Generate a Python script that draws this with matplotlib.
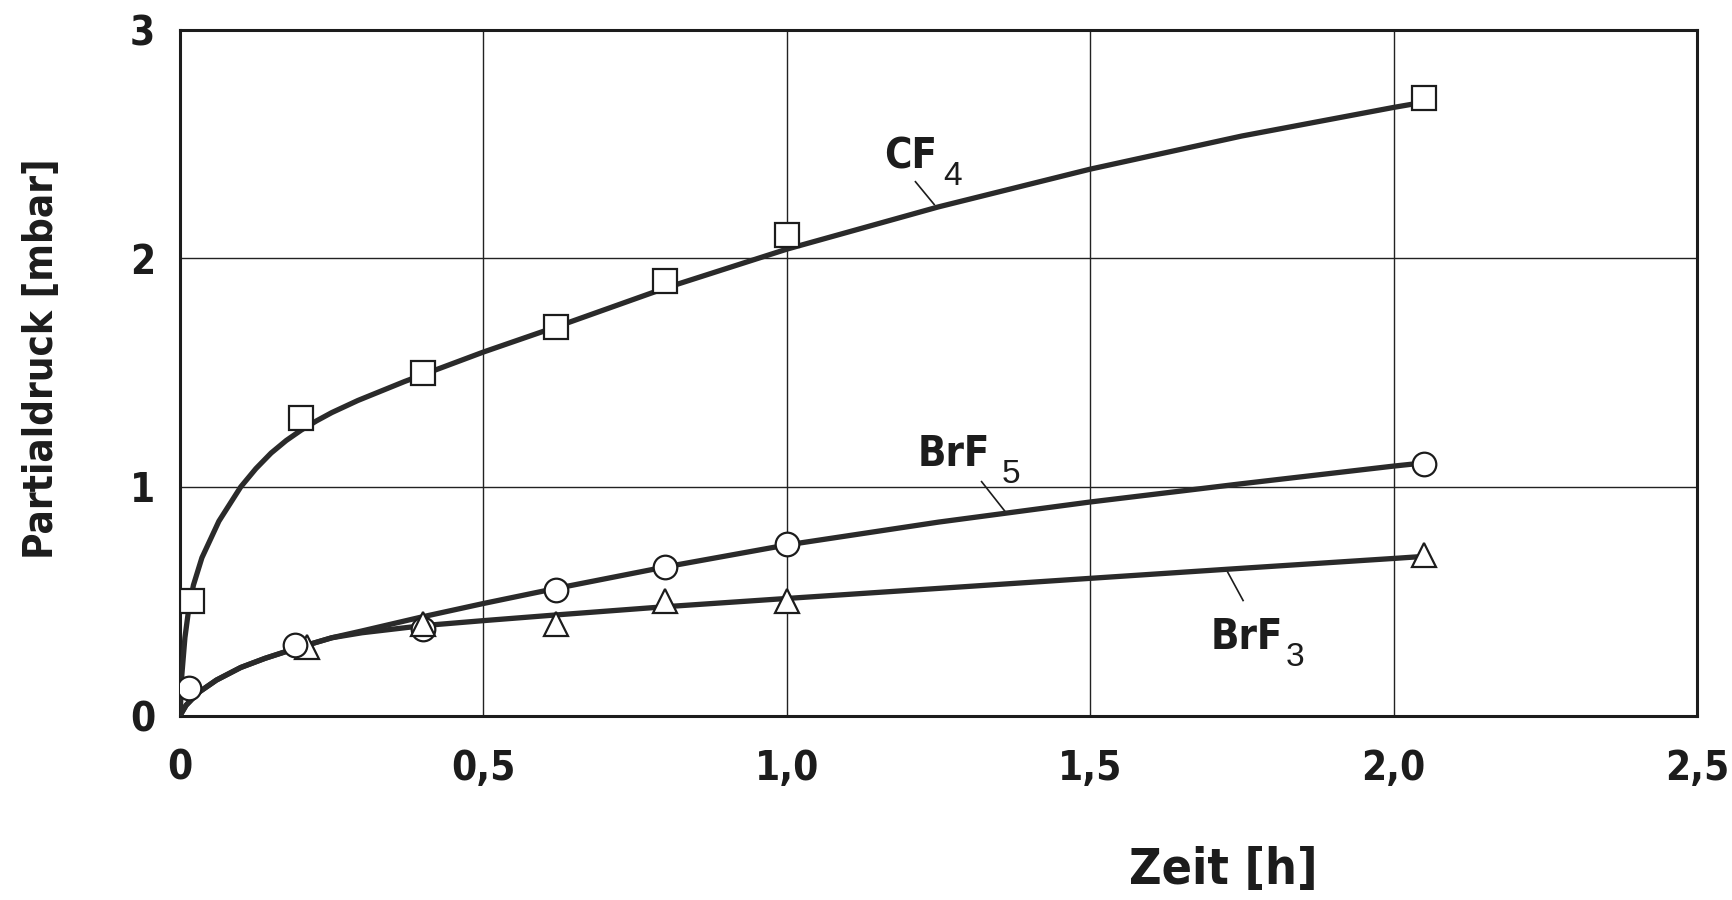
import numpy as np
import matplotlib
matplotlib.use("Agg")
import matplotlib.pyplot as plt

plt.rcParams['font.family'] = ['DejaVu Sans']
plt.rcParams['font.stretch'] = 'condensed'

# measured points (Zeit [h], Partialdruck [mbar])
cf4_x = [0.02, 0.20, 0.40, 0.62, 0.80, 1.00, 2.05]
cf4_y = [0.50, 1.30, 1.50, 1.70, 1.90, 2.10, 2.70]

brf5_x = [0.015, 0.19, 0.40, 0.62, 0.80, 1.00, 2.05]
brf5_y = [0.12, 0.31, 0.38, 0.55, 0.65, 0.75, 1.10]

brf3_x = [0.21, 0.40, 0.62, 0.80, 1.00, 2.05]
brf3_y = [0.30, 0.40, 0.40, 0.50, 0.50, 0.70]

# hand-drawn fit curves
cf4_cx = [0.0, 0.003, 0.008, 0.014, 0.022, 0.036, 0.064, 0.10, 0.125, 0.15,
          0.175, 0.20, 0.225, 0.25, 0.293, 0.37, 0.50, 0.62, 0.80, 1.00,
          1.25, 1.50, 1.75, 2.00, 2.05]
cf4_cy = [0.0, 0.18, 0.34, 0.46, 0.57, 0.69, 0.85, 1.00, 1.08, 1.148,
          1.203, 1.249, 1.289, 1.325, 1.378, 1.461, 1.59, 1.70, 1.87, 2.04,
          2.225, 2.39, 2.535, 2.66, 2.683]

brf5_cx = [0.0, 0.01, 0.03, 0.06, 0.10, 0.14, 0.19, 0.25, 0.30, 0.40, 0.50,
           0.62, 0.80, 1.00, 1.25, 1.50, 1.75, 2.00, 2.05]
brf5_cy = [0.0, 0.045, 0.10, 0.155, 0.21, 0.25, 0.293, 0.34, 0.37, 0.432, 0.49,
           0.556, 0.65, 0.746, 0.846, 0.934, 1.014, 1.091, 1.105]

brf3_cx = [0.0, 0.01, 0.03, 0.06, 0.10, 0.14, 0.19, 0.25, 0.30, 0.40, 0.50,
           0.62, 0.80, 1.00, 1.25, 1.50, 1.75, 2.00, 2.05]
brf3_cy = [0.0, 0.045, 0.10, 0.155, 0.21, 0.25, 0.293, 0.34, 0.362, 0.393, 0.415,
           0.44, 0.476, 0.512, 0.556, 0.60, 0.644, 0.687, 0.696]

x_ticks = [0, 0.5, 1.0, 1.5, 2.0, 2.5]
x_ticklabels = ["0", "0,5", "1,0", "1,5", "2,0", "2,5"]
y_ticks = [0, 1, 2, 3]
y_ticklabels = ["0", "1", "2", "3"]

ink = "#1c1c1c"
line_col = "#2a2a2a"

fig = plt.figure(figsize=(17.33, 9.0), dpi=100)
ax = fig.add_axes([0.1039, 0.205, 0.8753, 0.762])

ax.set_xlim(0, 2.5)
ax.set_ylim(0, 3)
ax.set_xticks(x_ticks)
ax.set_xticklabels(x_ticklabels)
ax.set_yticks(y_ticks)
ax.set_yticklabels(y_ticklabels)
ax.tick_params(length=0, labelsize=29, colors=ink)
ax.tick_params(axis='x', pad=24)
ax.tick_params(axis='y', pad=18)
for lab in ax.get_xticklabels() + ax.get_yticklabels():
    lab.set_fontweight('bold')

ax.grid(True, color="#222222", linewidth=1.0)
ax.set_axisbelow(True)
for sp in ax.spines.values():
    sp.set_linewidth(2.2)
    sp.set_color(ink)

# curves
for cx, cy in [(cf4_cx, cf4_cy), (brf5_cx, brf5_cy), (brf3_cx, brf3_cy)]:
    ax.plot(cx, cy, color=line_col, linewidth=3.8, solid_capstyle='round',
            solid_joinstyle='round', zorder=3)

mk = dict(linestyle='none', markersize=17, markerfacecolor='white',
          markeredgecolor=ink, markeredgewidth=1.6)
ax.plot(cf4_x, cf4_y, marker='s', zorder=5, **mk)
ax.plot(brf3_x[:1], brf3_y[:1], marker='^', zorder=4, **mk)
ax.plot(brf5_x, brf5_y, marker='o', zorder=5, **mk)
ax.plot(brf3_x[1:], brf3_y[1:], marker='^', zorder=6, **mk)


# curve labels: bold formula, subscript placed right after it
def formula(x, y, main, sub, gap, leader):
    t = ax.text(x, y, main, fontsize=30, fontweight='bold', color=ink)
    fig.canvas.draw()
    bb = t.get_window_extent()
    px, py = ax.transData.transform((x, y))
    sx, sy = ax.transData.inverted().transform((bb.x1 + gap, py - 17))
    ax.text(sx, sy, sub, fontsize=24, color=ink,
            family=['Liberation Sans', 'DejaVu Sans'], stretch='normal')
    ax.plot(leader[0], leader[1], color=ink, linewidth=1.2)


formula(1.16, 2.395, "CF", "4", 6, ([1.212, 1.243], [2.335, 2.235]))
formula(1.215, 1.09, "BrF", "5", 12, ([1.321, 1.362], [1.023, 0.885]))
formula(1.698, 0.29, "BrF", "3", 3, ([1.725, 1.752], [0.635, 0.503]))

fig.text(0.024, 0.601, "Partialdruck [mbar]", rotation=90, ha='center', va='center',
         fontsize=29, fontweight='bold', color=ink)
fig.text(0.706, 0.033, "Zeit [h]", ha='center', va='center',
         fontsize=36, fontweight='bold', color=ink)

fig.savefig("out.png", dpi=100)
